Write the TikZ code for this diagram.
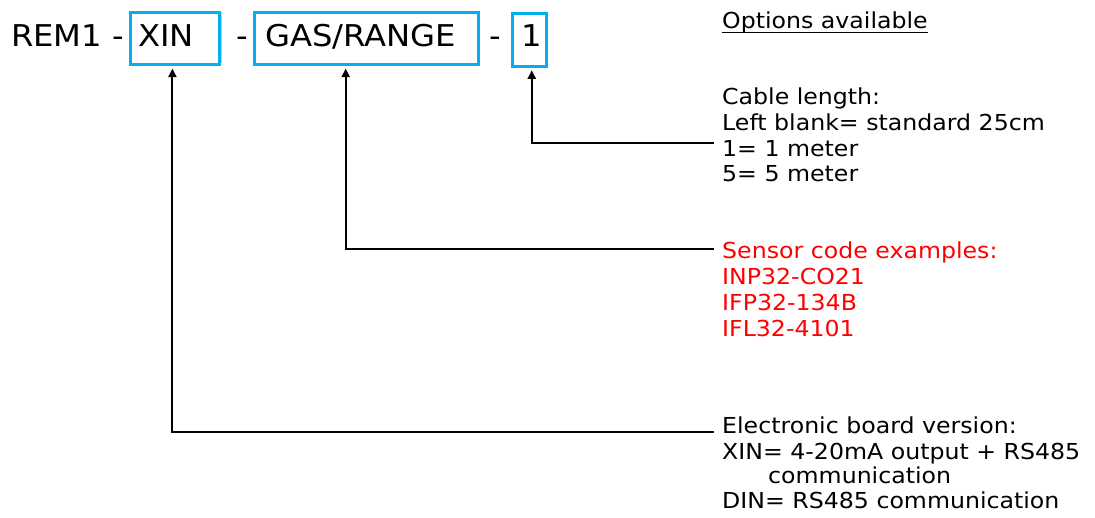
\documentclass[tikz,border=0pt]{standalone}
\usepackage{fontspec}
\setmainfont{DejaVu Sans}[FakeStretch=1.075]
\usetikzlibrary{arrows.meta}
\definecolor{boxblue}{RGB}{0,176,240}
\definecolor{faintblue}{RGB}{160,220,248}
\definecolor{optred}{RGB}{255,0,0}
\begin{document}
\begin{tikzpicture}[x=1pt,y=-1pt,
  toptext/.style={inner sep=0pt,anchor=base west,font=\fontsize{30}{36}\selectfont},
  optline/.style={inner sep=0pt,anchor=base west,font=\fontsize{22}{26}\selectfont},
  redline/.style={optline,text=optred},
  pbox/.style={draw=boxblue,line width=2.8pt,inner sep=0pt,anchor=north west},
  conn/.style={draw=black,line width=2.1pt,-{Triangle[length=8.5pt,width=8pt]},shorten >=2.5pt}
]
\useasboundingbox (0,0) rectangle (1095,517);
% top code line
\node[toptext] (rem) at (11,46.7) {REM1 -};
\node[pbox,minimum width=89.6pt,minimum height=52.6pt] (xinbox) at (128.7,10.7) {};
\draw[faintblue,line width=1.4pt] (221.5,11.7) -- (221.5,63.3);
\node[toptext] (xintxt) at (138,46.7) {XIN};
\node[toptext] (dash2) at (236,46.7) {-};
\node[pbox,minimum width=224.6pt,minimum height=52.6pt] (gasbox) at (252.7,10.7) {};
\node[toptext] (gastxt) at (265,46.7) {GAS/RANGE};
\node[toptext] (dash3) at (489,46.7) {-};
\node[pbox,minimum width=34.3pt,minimum height=53.3pt] (onebox) at (510.7,11.7) {};
\node[toptext] (onetxt) at (521.5,46.7) {1};
% options header
\node[optline] (opt) at (722,28) {Options available};
\draw[line width=1.4pt] ([yshift=-4.5pt]opt.base west) -- ([yshift=-4.5pt]opt.base east);
% cable length block
\node[optline] (cab1) at (722,104.3) {Cable length:};
\node[optline] (cab2) at (722,130) {Left blank= standard 25cm};
\node[optline] (cab3) at (722,156) {1= 1 meter};
\node[optline] (cab4) at (722,181.7) {5= 5 meter};
% sensor block
\node[redline] (sen1) at (722,258) {Sensor code examples:};
\node[redline] (sen2) at (722,284.3) {INP32-CO21};
\node[redline] (sen3) at (722,310.6) {IFP32-134B};
\node[redline] (sen4) at (722,336.8) {IFL32-4101};
% board block
\node[optline] (brd1) at (722,433.3) {Electronic board version:};
\node[optline] (brd2) at (722,459) {XIN= 4-20mA output + RS485};
\node[optline] (brd3) at (768,483.5) {communication};
\node[optline] (brd4) at (722,508.5) {DIN= RS485 communication};
% connector ends
\coordinate (cabend) at (713.5,142.7);
\coordinate (senend) at (713.5,249.3);
\coordinate (brdend) at (713.5,432.3);
\draw[conn] (cabend) -| ([xshift=2.5pt]onebox.south);
\draw[conn] (senend) -| ([xshift=-20.7pt]gasbox.south);
\draw[conn] (brdend) -| ([xshift=-2.5pt]xinbox.south);
\end{tikzpicture}
\end{document}
